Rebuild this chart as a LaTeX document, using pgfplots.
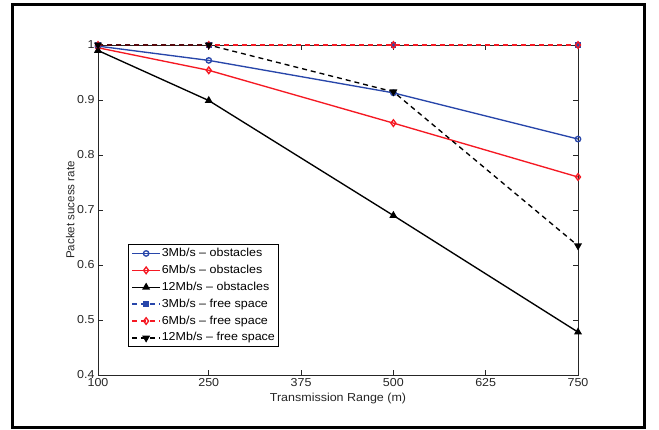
\documentclass[border=0pt]{standalone}
\usepackage{pgfplots}
\pgfplotsset{compat=1.18}
\usepackage{fontspec}
\setmainfont{Liberation Sans}[FakeStretch=1.08]
\newfontfamily\ylabfont{Liberation Sans}
\definecolor{mblue}{RGB}{40,70,170}
\definecolor{mred}{RGB}{245,25,35}
\begin{document}
\begin{tikzpicture}[x=1bp,y=1bp]
\useasboundingbox (0,0) rectangle (659,429);
\draw[line width=3bp] (12,2) rectangle (644,424);
\begin{axis}[
  at={(98bp,54bp)}, anchor=south west, scale only axis,
  width=480bp, height=330bp,
  xmin=100, xmax=750, ymin=0.4, ymax=1,
  xtick={100,250,375,500,625,750},
  ytick={0.4,0.5,0.6,0.7,0.8,0.9,1},
  tick align=inside, major tick length=5bp,
  axis line style={line width=0.9bp, black!85},
  every tick/.style={black!85, line width=0.8bp},
  font=\fontsize{11.6}{13}\selectfont,
  tick label style={black!85},
  /pgf/number format/assume math mode=true,
  xlabel={Transmission Range (m)},
  ylabel={\ylabfont Packet sucess rate},
  ylabel style={at={(axis description cs:-0.058,0.5)}, anchor=center, black!85},
  xlabel style={at={(axis description cs:0.5,-0.072)}, anchor=center, black!85},
  clip=false,
  legend cell align=left,
  legend image code/.code={
    \draw[mark repeat=2,mark phase=2,#1] plot coordinates {(0bp,0bp) (14bp,0bp) (28bp,0bp)};},
  legend style={at={(axis description cs:0.0625,0.397)}, anchor=north west,
    draw=black, line width=0.9bp, inner xsep=3bp, inner ysep=2bp, row sep=2.9bp,
    font=\fontsize{11.6}{13}\selectfont,
    nodes={inner sep=1bp, text height=9bp, text depth=3bp}},
]
\addplot[mblue, line width=1.35bp, mark=o, mark size=2.7bp] coordinates {(100,0.998)(250,0.972)(500,0.913)(750,0.829)};
\addlegendentry{3Mb/s \textendash{} obstacles}
\addplot[mred, line width=1.35bp, mark=diamond, mark size=3.3bp] coordinates {(100,0.995)(250,0.954)(500,0.858)(750,0.760)};
\addlegendentry{6Mb/s \textendash{} obstacles}
\addplot[black, line width=1.35bp, mark=triangle*, mark size=3.3bp] coordinates {(100,0.99)(250,0.899)(500,0.690)(750,0.478)};
\addlegendentry{12Mb/s \textendash{} obstacles}
\addplot[mblue, line width=1.35bp, dash pattern=on 5bp off 4bp, mark=square*, mark size=2.1bp, mark options={solid}] coordinates {(100,1)(250,1)(500,1)(750,1)};
\addlegendentry{3Mb/s \textendash{} free space}
\addplot[mred, line width=1.35bp, dash pattern=on 5bp off 4bp, mark=diamond, mark size=3.3bp, mark options={solid}] coordinates {(100,1)(250,1)(500,1)(750,1)};
\addlegendentry{6Mb/s \textendash{} free space}
\addplot[black, line width=1.35bp, dash pattern=on 5bp off 4bp, mark=triangle*, mark size=3.3bp, mark options={solid, rotate=180}] coordinates {(100,1)(250,1)(500,0.915)(750,0.635)};
\addlegendentry{12Mb/s \textendash{} free space}
\end{axis}
\end{tikzpicture}
\end{document}
